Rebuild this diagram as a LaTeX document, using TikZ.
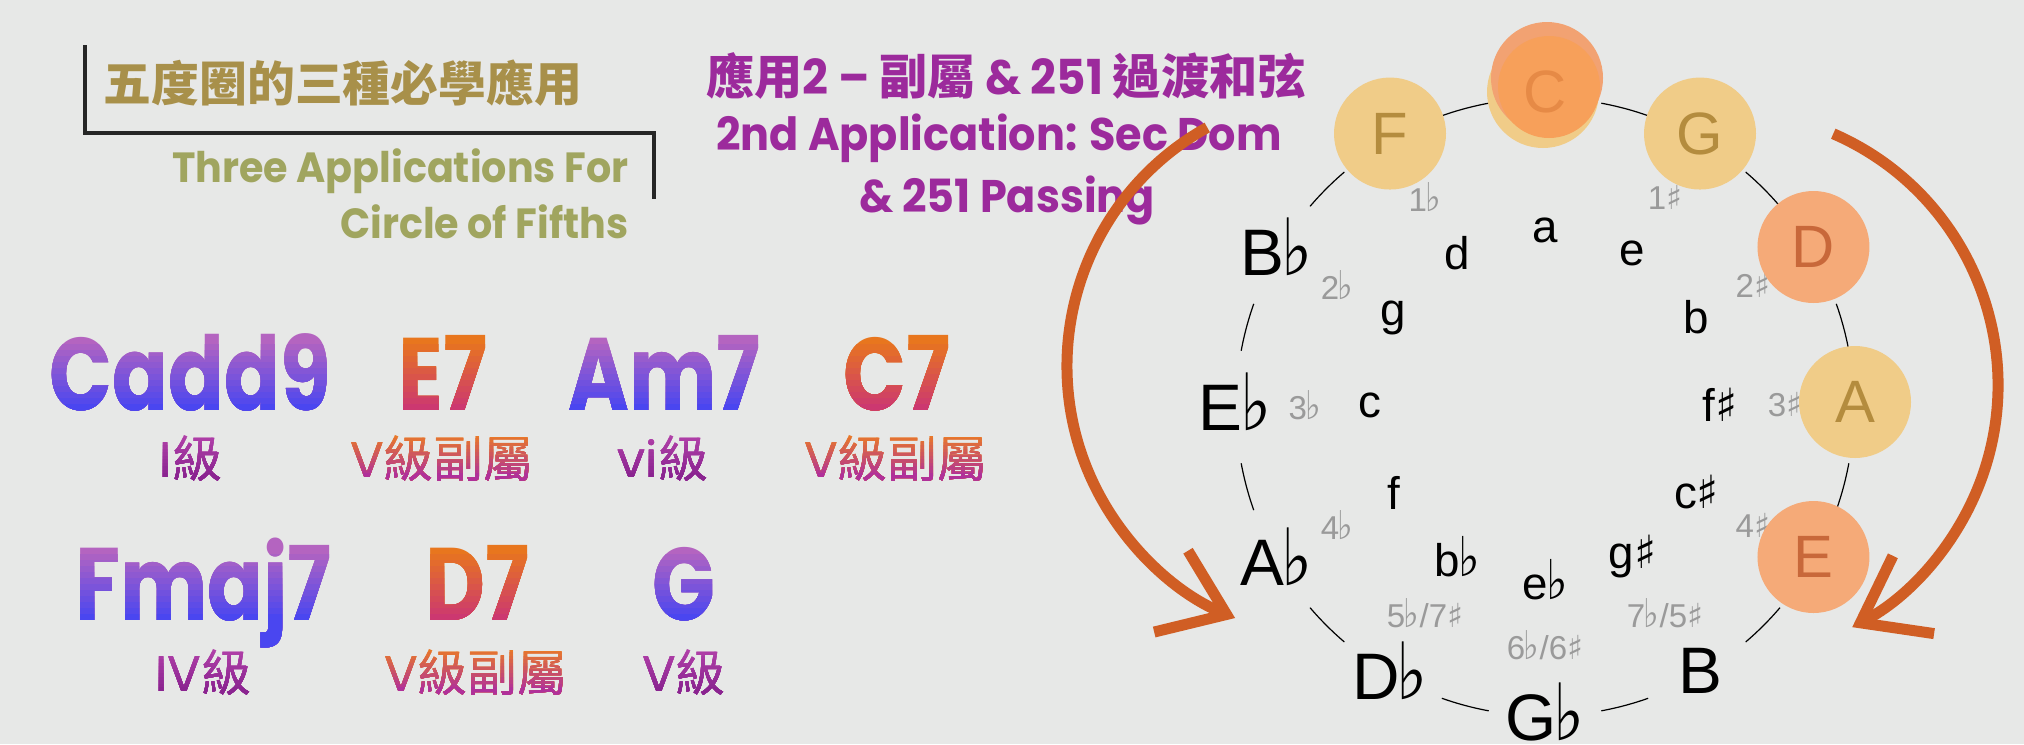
\documentclass[tikz,border=0pt]{standalone}
\usepackage{fontspec}
\setmainfont{Poppins}
\newfontfamily\chordfamily[FakeStretch=0.8]{Poppins}
\newfontfamily\titlefamily[FakeStretch=0.94]{Poppins}
\newfontfamily\cjk{Noto Sans CJK TC}
\newfontfamily\notefont{Liberation Sans}
\newfontfamily\symfont{DejaVu Sans}
\usetikzlibrary{calc,arrows.meta}

\definecolor{bggray}{HTML}{E7E8E7}
\definecolor{oliveGold}{HTML}{A8904A}
\definecolor{oliveGreen}{HTML}{A0A55F}
\definecolor{titlePurple}{HTML}{9C2A9C}
\definecolor{chordPurple}{HTML}{B464C0}
\definecolor{chordBlue}{HTML}{4A46F0}
\definecolor{chordOrange}{HTML}{E8761E}
\definecolor{chordRed}{HTML}{CC3870}
\definecolor{labPurple}{HTML}{B040A8}
\definecolor{labDeep}{HTML}{8A2490}
\definecolor{labOrange}{HTML}{E8782A}
\definecolor{labMagenta}{HTML}{B0309A}
\definecolor{sigGray}{HTML}{9A9A9A}
\definecolor{ballYellow}{HTML}{F0CC88}
\definecolor{ballSalmon}{HTML}{F5AA78}
\definecolor{ballTop}{HTML}{F2A272}
\definecolor{ballOrange}{HTML}{F7A05A}
\definecolor{letYellow}{HTML}{B48C3E}
\definecolor{letSalmon}{HTML}{C8683A}
\definecolor{letOrange}{HTML}{E68A46}
\definecolor{arrowOrange}{HTML}{D05E24}

\def\fl{\kern-0.04em{\symfont\scalebox{1}[1.2]{♭}}}
\def\sh{{\symfont ♯}}
\def\chordfont{\chordfamily\bfseries\fontsize{29.3}{30}\selectfont}
\def\labfont{\fontsize{14.2}{15}\selectfont}

% text in bands, top colour to bottom colour
\newcommand\gradtext[8]{%
	\foreach \k in {0,...,11}{%
		\pgfmathtruncatemacro\pc{100*\k/11}%
		\pgfmathsetmacro\ya{\k==0 ? 400 : #6*(1-\k/12)}%
		\begin{scope}
			\clip (#2-600,#3+\ya) rectangle (#2+600,#3-400);
			\node[anchor=base, inner sep=0, font=#7, text=#5!\pc!#4] (#1) at (#2,#3) {#8};
		\end{scope}
	}%
}

\tikzset{
	note/.style={font=\notefont\fontsize{18.7}{20}\selectfont, inner sep=0},
	minor/.style={font=\notefont\fontsize{13}{14}\selectfont, inner sep=0},
	sig/.style={font=\notefont\fontsize{9.4}{10}\selectfont, text=sigGray, inner sep=0},
	ballnote/.style={font=\notefont\fontsize{17}{18}\selectfont, inner sep=0},
	arrowline/.style={draw=arrowOrange, line width=0.11cm, -{Straight Barb[length=0.6cm, width=0.88cm]}},
}

\begin{document}
\begin{tikzpicture}[x=0.01cm, y=0.01cm]
	%%%%% START %%%%%
	
	\useasboundingbox (0,0) rectangle (2024,744);
	\fill[bggray] (0,0) rectangle (2024,744);
	
	% heading, top left
	\draw[line width=0.04cm, color=black!85] (85,699) -- (85,611) -- (654,611) -- (654,545);
	\node[anchor=west, inner sep=0, text=oliveGold, font=\cjk\bfseries\fontsize{13.6}{14}\selectfont] (headzh) at (103,661) {五度圈的三種必學應用};
	\node[anchor=base east, inner sep=0, text=oliveGreen, font=\titlefamily\bfseries\fontsize{12}{13}\selectfont] (headen1) at (629,562) {Three Applications For};
	\node[anchor=base east, inner sep=0, text=oliveGreen, font=\titlefamily\bfseries\fontsize{12}{13}\selectfont] (headen2) at (629,506) {Circle of Fifths};
	
	% purple heading
	\node[inner sep=0, text=titlePurple, font=\titlefamily\bfseries\fontsize{13.7}{14}\selectfont] (app1) at (1006,668) {{\cjk\bfseries 應用}2 – {\cjk\bfseries 副屬} \& 251 {\cjk\bfseries 過渡和弦}};
	\node[anchor=base, inner sep=0, text=titlePurple, font=\titlefamily\bfseries\fontsize{13}{14}\selectfont] (app2) at (999,594) {2nd Application: Sec Dom};
	\node[anchor=base, inner sep=0, text=titlePurple, font=\titlefamily\bfseries\fontsize{13}{14}\selectfont] (app3) at (1007,532) {\& 251 Passing};
	
	% chords, row 1
	\gradtext{cadd}{190}{334}{chordPurple}{chordBlue}{72}{\chordfont}{Cadd9}
	\gradtext{efour}{443}{334}{chordOrange}{chordRed}{72}{\chordfont}{E7}
	\gradtext{amin}{665}{334}{chordPurple}{chordBlue}{72}{\chordfont}{Am7}
	\gradtext{cdom}{897}{334}{chordOrange}{chordRed}{72}{\chordfont}{C7}
	\gradtext{lone}{191}{267}{labPurple}{labDeep}{42}{\labfont}{I{\cjk 級}}
	\gradtext{ltwo}{442}{267}{labOrange}{labMagenta}{42}{\labfont}{V{\cjk 級副屬}}
	\gradtext{lthree}{663}{267}{labPurple}{labDeep}{42}{\labfont}{vi{\cjk 級}}
	\gradtext{lfour}{896}{267}{labOrange}{labMagenta}{42}{\labfont}{V{\cjk 級副屬}}
	
	% chords, row 2
	\gradtext{fmaj}{203.5}{124}{chordPurple}{chordBlue}{72}{\chordfont}{Fmaj7}
	\gradtext{ddom}{478}{124}{chordOrange}{chordRed}{72}{\chordfont}{D7}
	\gradtext{gmaj}{683.5}{124}{chordPurple}{chordBlue}{72}{\chordfont}{G}
	\gradtext{lfive}{203}{53}{labPurple}{labDeep}{42}{\labfont}{IV{\cjk 級}}
	\gradtext{lsix}{476}{53}{labOrange}{labMagenta}{42}{\labfont}{V{\cjk 級副屬}}
	\gradtext{lseven}{684}{53}{labPurple}{labDeep}{42}{\labfont}{V{\cjk 級}}
	
	% circle of fifths
	\coordinate (ring) at (1545,342);
	\coordinate (ringline) at (1545,337);
	\coordinate (inner) at (1545,339);
	
	\foreach \t in {0,30,...,330}
		\draw[line width=0.012cm] ($(ringline)+(\t+10.5:309)$) arc[start angle=\t+10.5, end angle=\t+19.5, radius=309];
	
	\foreach \n/\a in {B\fl/150, E\fl/180, A\fl/210, D\fl/240, G\fl/270, B/300}
		\node[note] (note\a) at ($(ring)+(\a:310)$) {\n};
	
	\foreach \n/\a in {a/90, e/60, b/30, f\sh/0, c\sh/-30, g\sh/-60, e\fl/-90, b\fl/-120, f/-150, c/180, g/150, d/120}
		\node[minor] (minor\a) at ($(inner)+(\a:175)$) {\n};
	
	\foreach \s/\a in {1\fl/120, 2\fl/150, 3\fl/180, 4\fl/210, {5\fl/7\sh}/240, {6\fl/6\sh}/270, {7\fl/5\sh}/300, 4\sh/330, 3\sh/0, 2\sh/30, 1\sh/60}
		\node[sig] (sig\a) at ($(inner)+(\a:240)$) {\s};
	
	\foreach \n/\a/\c/\l in {F/120/ballYellow/letYellow, G/60/ballYellow/letYellow, D/30/ballSalmon/letSalmon, A/0/ballYellow/letYellow, E/-30/ballSalmon/letSalmon}{
		\fill[\c] ($(ring)+(\a:310)$) circle[radius=56];
		\node[ballnote, text=\l] (ball\n) at ($(ring)+(\a:310)$) {\n};
	}
	
	\fill[ballYellow] (1543,652) circle[radius=56];
	\fill[ballTop] (1547,666) circle[radius=56];
	\fill[ballOrange] (1549,657) circle[radius=51];
	\node[ballnote, text=letOrange] (ballC) at (1545,652) {C};
	
	% the two arrows
	\draw[arrowline] (1340,378) ++(119.1:273) arc[start angle=119.1, end angle=247.4, radius=273];
	\draw[arrowline] (1724,359) ++(66.5:274) arc[start angle=66.5, end angle=-62.1, radius=274];
	
	%%%%% END %%%%%
\end{tikzpicture}
\end{document}
